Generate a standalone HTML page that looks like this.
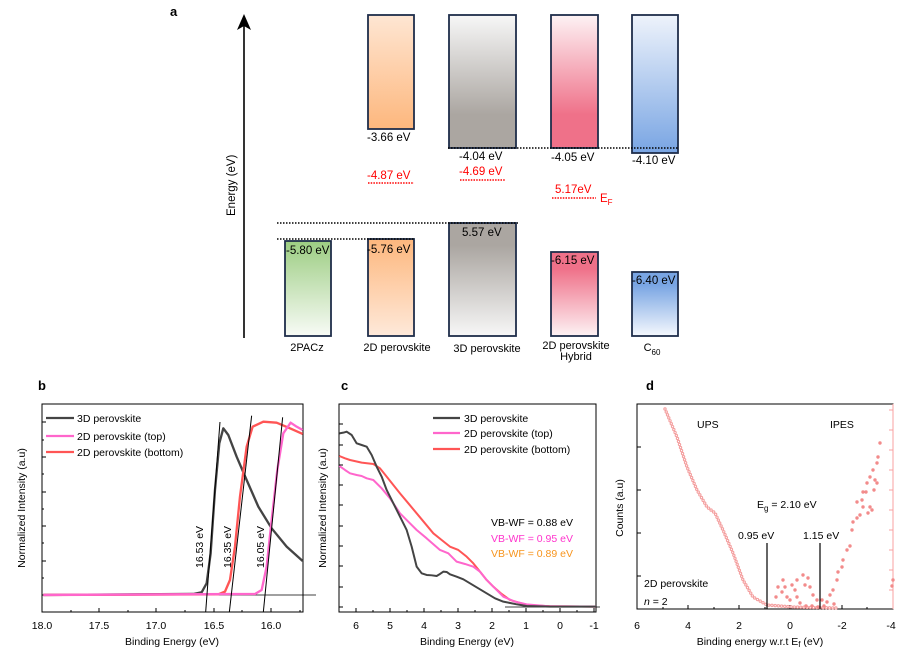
<!DOCTYPE html>
<html><head><meta charset="utf-8"><style>
html,body{margin:0;padding:0;background:#fff;}
svg{display:block;font-family:"Liberation Sans",Arial,sans-serif;}
</style></head><body>
<svg width="918" height="660" viewBox="0 0 918 660" xmlns="http://www.w3.org/2000/svg">
<defs>
<linearGradient id="or" x1="0" y1="0" x2="0" y2="1"><stop offset="0" stop-color="#fee6d3"/><stop offset="1" stop-color="#fdb77d"/></linearGradient>
<linearGradient id="orb" x1="0" y1="0" x2="0" y2="1"><stop offset="0" stop-color="#fdb77d"/><stop offset="1" stop-color="#fee9da"/></linearGradient>
<linearGradient id="gr" x1="0" y1="0" x2="0" y2="1"><stop offset="0" stop-color="#f7f7f7"/><stop offset="0.75" stop-color="#aba6a1"/><stop offset="1" stop-color="#aba6a1"/></linearGradient>
<linearGradient id="grb" x1="0" y1="0" x2="0" y2="1"><stop offset="0" stop-color="#aba6a1"/><stop offset="0.2" stop-color="#aba6a1"/><stop offset="1" stop-color="#f7f7f7"/></linearGradient>
<linearGradient id="pk" x1="0" y1="0" x2="0" y2="1"><stop offset="0" stop-color="#fdf2f4"/><stop offset="0.75" stop-color="#ef7189"/><stop offset="1" stop-color="#ef7189"/></linearGradient>
<linearGradient id="pkb" x1="0" y1="0" x2="0" y2="1"><stop offset="0" stop-color="#ef7189"/><stop offset="0.2" stop-color="#ef7189"/><stop offset="1" stop-color="#fdf2f4"/></linearGradient>
<linearGradient id="bl" x1="0" y1="0" x2="0" y2="1"><stop offset="0" stop-color="#eef3fb"/><stop offset="1" stop-color="#79a5e3"/></linearGradient>
<linearGradient id="blb" x1="0" y1="0" x2="0" y2="1"><stop offset="0" stop-color="#79a5e3"/><stop offset="0.2" stop-color="#79a5e3"/><stop offset="1" stop-color="#f5f8fd"/></linearGradient>
<linearGradient id="gn" x1="0" y1="0" x2="0" y2="1"><stop offset="0" stop-color="#9ccd82"/><stop offset="1" stop-color="#f8fbf6"/></linearGradient>
</defs>

<!-- Panel a -->
<text x="170" y="16" font-size="13" font-weight="bold">a</text>
<line x1="244" y1="338" x2="244" y2="24" stroke="#000" stroke-width="1.6"/>
<polygon points="244,14 237,30 244,26 251,30" fill="#000"/>
<text transform="translate(235,216) rotate(-90)" font-size="11.5">Energy (eV)</text>
<g stroke="#1f2d4a" stroke-width="1.8">
<rect x="368" y="15" width="46" height="114" fill="url(#or)"/>
<rect x="449" y="15" width="67" height="133" fill="url(#gr)"/>
<rect x="551" y="15" width="47" height="133" fill="url(#pk)"/>
<rect x="632" y="15" width="46" height="138" fill="url(#bl)"/>
<rect x="285" y="241" width="46" height="95" fill="url(#gn)"/>
<rect x="368" y="239" width="46" height="97" fill="url(#orb)"/>
<rect x="449" y="223" width="67" height="113" fill="url(#grb)"/>
<rect x="551" y="252" width="47" height="84" fill="url(#pkb)"/>
<rect x="632" y="272" width="46" height="64" fill="url(#blb)"/>
</g>
<g stroke="#000" stroke-width="1.4" stroke-dasharray="1.5,1.5">
<line x1="277" y1="223" x2="518" y2="223"/>
<line x1="277" y1="239" x2="415" y2="239"/>
<line x1="448" y1="148" x2="678" y2="148"/>
</g>
<g stroke="#f00" stroke-width="1.4" stroke-dasharray="1.5,1.2">
<line x1="368" y1="183" x2="414" y2="183"/>
<line x1="460" y1="180" x2="505" y2="180"/>
<line x1="552" y1="198" x2="596" y2="198"/>
</g>
<g font-size="11.5" fill="#000">
<text x="367" y="141">-3.66 eV</text>
<text x="459" y="160">-4.04 eV</text>
<text x="551" y="161">-4.05 eV</text>
<text x="632" y="164">-4.10 eV</text>
<text x="286" y="254">-5.80 eV</text>
<text x="367" y="253">-5.76 eV</text>
<text x="462" y="236">5.57 eV</text>
<text x="551" y="264">-6.15 eV</text>
<text x="632" y="284">-6.40 eV</text>
</g>
<g font-size="11.5" fill="#f00">
<text x="367" y="179">-4.87 eV</text>
<text x="459" y="175">-4.69 eV</text>
<text x="555" y="193">5.17eV</text>
<text x="600" y="202">E<tspan font-size="8" dy="3">F</tspan></text>
</g>
<g font-size="11" fill="#000" text-anchor="middle">
<text x="307" y="351">2PACz</text>
<text x="397" y="351">2D perovskite</text>
<text x="487" y="352">3D perovskite</text>
<text x="576" y="349">2D perovskite</text>
<text x="576" y="360">Hybrid</text>
<text x="652" y="351">C<tspan font-size="8" dy="4">60</tspan></text>
</g>

<!-- Panel b -->
<text x="38" y="390" font-size="13" font-weight="bold">b</text>
<rect x="42" y="404" width="261" height="208" fill="none" stroke="#000" stroke-width="1"/>
<g stroke="#000" stroke-width="1">
<line x1="42" y1="422" x2="46" y2="422"/><line x1="42" y1="457" x2="46" y2="457"/><line x1="42" y1="492" x2="46" y2="492"/><line x1="42" y1="526" x2="46" y2="526"/><line x1="42" y1="561" x2="46" y2="561"/><line x1="42" y1="595" x2="46" y2="595"/>
<line x1="42" y1="440" x2="44" y2="440"/><line x1="42" y1="474" x2="44" y2="474"/><line x1="42" y1="509" x2="44" y2="509"/><line x1="42" y1="543" x2="44" y2="543"/><line x1="42" y1="578" x2="44" y2="578"/>
<line x1="42" y1="612" x2="42" y2="608"/><line x1="99" y1="612" x2="99" y2="608"/><line x1="156" y1="612" x2="156" y2="608"/><line x1="214" y1="612" x2="214" y2="608"/><line x1="271" y1="612" x2="271" y2="608"/>
<line x1="71" y1="612" x2="71" y2="610"/><line x1="128" y1="612" x2="128" y2="610"/><line x1="185" y1="612" x2="185" y2="610"/><line x1="242" y1="612" x2="242" y2="610"/><line x1="300" y1="612" x2="300" y2="610"/>
</g>
<g font-size="10.5" text-anchor="middle">
<text x="42" y="629">18.0</text><text x="99" y="629">17.5</text><text x="156" y="629">17.0</text><text x="214" y="629">16.5</text><text x="271" y="629">16.0</text>
<text x="172" y="645">Binding Energy (eV)</text>
</g>
<text transform="translate(25,508) rotate(-90)" font-size="10.5" text-anchor="middle">Normalized Intensity (a.u)</text>
<line x1="42" y1="595" x2="316" y2="595" stroke="#000" stroke-width="0.8"/>
<g transform="translate(0,380) scale(0.3333)" fill="none" stroke-linejoin="round">
<polyline stroke="#444" stroke-width="7" points="130,645 580,642 605,637 620,610 632,520 645,330 658,190 670,145 685,165 710,230 740,300 775,380 815,445 860,500 908,543"/>
<polyline stroke="#f55" stroke-width="7" points="130,645 655,643 675,635 690,600 705,500 720,350 740,200 758,140 790,125 830,128 870,145 908,162"/>
<polyline stroke="#f6c" stroke-width="7" points="130,645 765,642 785,630 800,560 815,420 832,270 850,160 872,128 890,140 908,150"/>
<g stroke="#000" stroke-width="3">
<line x1="617" y1="697" x2="660" y2="126"/>
<line x1="688" y1="697" x2="755" y2="107"/>
<line x1="790" y1="697" x2="848" y2="112"/>
</g>
</g>
<g font-size="10.5">
<text transform="translate(203,568) rotate(-90)">16.53 eV</text>
<text transform="translate(231,568) rotate(-90)">16.35 eV</text>
<text transform="translate(264,568) rotate(-90)">16.05 eV</text>
</g>
<g stroke-width="2.3">
<line x1="46" y1="418" x2="74" y2="418" stroke="#444"/>
<line x1="46" y1="436" x2="74" y2="436" stroke="#f6c"/>
<line x1="46" y1="452" x2="74" y2="452" stroke="#f55"/>
</g>
<g font-size="10.5">
<text x="77" y="422">3D perovskite</text>
<text x="77" y="440">2D perovskite (top)</text>
<text x="77" y="456">2D perovskite (bottom)</text>
</g>

<!-- Panel c -->
<text x="341" y="390" font-size="13" font-weight="bold">c</text>
<rect x="339" y="404" width="257" height="208" fill="none" stroke="#000" stroke-width="1"/>
<g stroke="#000" stroke-width="1">
<line x1="339" y1="424" x2="343" y2="424"/><line x1="339" y1="445" x2="343" y2="445"/><line x1="339" y1="465" x2="343" y2="465"/><line x1="339" y1="485" x2="343" y2="485"/><line x1="339" y1="505" x2="343" y2="505"/><line x1="339" y1="526" x2="343" y2="526"/><line x1="339" y1="546" x2="343" y2="546"/><line x1="339" y1="566" x2="343" y2="566"/><line x1="339" y1="587" x2="343" y2="587"/><line x1="339" y1="607" x2="343" y2="607"/>
<line x1="356" y1="612" x2="356" y2="608"/><line x1="390" y1="612" x2="390" y2="608"/><line x1="424" y1="612" x2="424" y2="608"/><line x1="458" y1="612" x2="458" y2="608"/><line x1="492" y1="612" x2="492" y2="608"/><line x1="526" y1="612" x2="526" y2="608"/><line x1="560" y1="612" x2="560" y2="608"/><line x1="594" y1="612" x2="594" y2="608"/>
<line x1="373" y1="612" x2="373" y2="610"/><line x1="407" y1="612" x2="407" y2="610"/><line x1="441" y1="612" x2="441" y2="610"/><line x1="475" y1="612" x2="475" y2="610"/><line x1="509" y1="612" x2="509" y2="610"/><line x1="543" y1="612" x2="543" y2="610"/><line x1="577" y1="612" x2="577" y2="610"/>
</g>
<g font-size="10.5" text-anchor="middle">
<text x="356" y="629">6</text><text x="390" y="629">5</text><text x="424" y="629">4</text><text x="458" y="629">3</text><text x="492" y="629">2</text><text x="526" y="629">1</text><text x="560" y="629">0</text><text x="594" y="629">-1</text>
<text x="467" y="645">Binding Energy (eV)</text>
</g>
<text transform="translate(326,508) rotate(-90)" font-size="10.5" text-anchor="middle">Normalized Intensity (a.u)</text>
<line x1="505" y1="607" x2="600" y2="607" stroke="#000" stroke-width="0.8"/>
<g transform="translate(300,380) scale(0.3333)" fill="none" stroke-linejoin="round">
<polyline stroke="#f55" stroke-width="6" points="118,228 135,235 150,240 185,248 220,252 240,265 260,290 280,315 300,340 325,370 350,400 375,430 400,460 425,480 450,500 475,510 500,530 520,550 540,575 560,600 580,620 605,642 630,660 680,675 750,679 888,680"/>
<polyline stroke="#f6c" stroke-width="6" points="118,258 135,270 150,280 170,285 185,288 200,295 220,300 245,325 270,355 290,385 300,400 325,425 350,450 380,475 420,510 445,520 470,545 495,552 520,560 540,575 560,600 585,625 610,650 645,665 680,673 750,679 888,680"/>
<polyline stroke="#444" stroke-width="6" points="118,160 130,158 140,155 155,165 170,190 185,195 200,200 215,225 230,260 245,290 260,330 275,360 290,390 305,420 320,450 335,500 350,560 365,580 380,585 395,586 410,588 420,582 430,575 440,576 450,583 470,590 490,598 510,610 535,625 560,640 585,655 610,665 650,673 680,678 750,680 888,680"/>
</g>
<g stroke-width="2.3">
<line x1="433" y1="418" x2="460" y2="418" stroke="#444"/>
<line x1="433" y1="433" x2="460" y2="433" stroke="#f6c"/>
<line x1="433" y1="449" x2="460" y2="449" stroke="#f55"/>
</g>
<g font-size="10.5">
<text x="464" y="422">3D perovskite</text>
<text x="464" y="437">2D perovskite (top)</text>
<text x="464" y="453">2D perovskite (bottom)</text>
<text x="491" y="526" fill="#000">VB-WF = 0.88 eV</text>
<text x="491" y="542" fill="#f3c">VB-WF = 0.95 eV</text>
<text x="491" y="557" fill="#f7941d">VB-WF = 0.89 eV</text>
</g>

<!-- Panel d -->
<text x="646" y="390" font-size="13" font-weight="bold">d</text>
<rect x="637" y="404" width="256" height="205" fill="none" stroke="#000" stroke-width="1"/>
<line x1="893" y1="404" x2="893" y2="609" stroke="#f8a0a0" stroke-width="1"/>
<g stroke="#000" stroke-width="1">
<line x1="637" y1="447" x2="641" y2="447"/><line x1="637" y1="490" x2="641" y2="490"/><line x1="637" y1="533" x2="641" y2="533"/><line x1="637" y1="576" x2="641" y2="576"/>
<line x1="637" y1="609" x2="637" y2="605"/><line x1="688" y1="609" x2="688" y2="605"/><line x1="739" y1="609" x2="739" y2="605"/><line x1="790" y1="609" x2="790" y2="605"/><line x1="842" y1="609" x2="842" y2="605"/>
<line x1="663" y1="609" x2="663" y2="607"/><line x1="714" y1="609" x2="714" y2="607"/><line x1="765" y1="609" x2="765" y2="607"/><line x1="816" y1="609" x2="816" y2="607"/><line x1="867" y1="609" x2="867" y2="607"/>
</g>
<g stroke="#f8a0a0" stroke-width="1">
<line x1="893" y1="410" x2="889" y2="410"/><line x1="893" y1="430" x2="889" y2="430"/><line x1="893" y1="450" x2="889" y2="450"/><line x1="893" y1="470" x2="889" y2="470"/><line x1="893" y1="490" x2="889" y2="490"/><line x1="893" y1="510" x2="889" y2="510"/><line x1="893" y1="530" x2="889" y2="530"/><line x1="893" y1="550" x2="889" y2="550"/><line x1="893" y1="570" x2="889" y2="570"/><line x1="893" y1="590" x2="889" y2="590"/>
</g>
<g font-size="10.5" text-anchor="middle">
<text x="637" y="629">6</text><text x="688" y="629">4</text><text x="739" y="629">2</text><text x="790" y="629">0</text><text x="842" y="629">-2</text><text x="891" y="629">-4</text>
<text x="760" y="645">Binding energy w.r.t E<tspan font-size="8" dy="2">f</tspan><tspan dy="-2">  (eV)</tspan></text>
</g>
<text transform="translate(623,508) rotate(-90)" font-size="10.5" text-anchor="middle">Counts (a.u)</text>
<!-- UPS open circles -->
<path d="M665,409 L677,437 L687,467 L697,490 L707,507 L715,513 L723,530 L733,553 L743,580 L753,597 L767,605 L793,607 L837,608" fill="none" stroke="#f4a0a0" stroke-width="3.4" stroke-linecap="round" stroke-dasharray="0 3.2"/>
<path d="M665,409 L677,437 L687,467 L697,490 L707,507 L715,513 L723,530 L733,553 L743,580 L753,597 L767,605 L793,607 L837,608" fill="none" stroke="#fff" stroke-width="1.2" stroke-linecap="round" stroke-dasharray="0 3.2"/>
<!-- IPES dots -->
<g fill="#f28b8b">
<circle cx="783" cy="580" r="1.7"/><circle cx="778" cy="587" r="1.7"/><circle cx="782" cy="592" r="1.7"/><circle cx="787" cy="597" r="1.7"/><circle cx="792" cy="585" r="1.7"/><circle cx="797" cy="580" r="1.7"/><circle cx="803" cy="575" r="1.7"/><circle cx="805" cy="585" r="1.7"/><circle cx="810" cy="587" r="1.7"/><circle cx="813" cy="595" r="1.7"/><circle cx="817" cy="600" r="1.7"/><circle cx="797" cy="597" r="1.7"/><circle cx="800" cy="603" r="1.7"/><circle cx="790" cy="600" r="1.7"/><circle cx="785" cy="587" r="1.7"/><circle cx="808" cy="578" r="1.7"/><circle cx="795" cy="590" r="1.7"/><circle cx="776" cy="597" r="1.7"/>
<circle cx="806" cy="606" r="1.7"/><circle cx="812" cy="606" r="1.7"/><circle cx="818" cy="607" r="1.7"/><circle cx="824" cy="606" r="1.7"/><circle cx="822" cy="600" r="1.7"/><circle cx="827" cy="602" r="1.7"/><circle cx="830" cy="595" r="1.7"/><circle cx="833" cy="590" r="1.7"/><circle cx="834" cy="604" r="1.7"/><circle cx="837" cy="580" r="1.7"/><circle cx="838" cy="572" r="1.7"/><circle cx="842" cy="567" r="1.7"/><circle cx="843" cy="560" r="1.7"/><circle cx="847" cy="550" r="1.7"/><circle cx="850" cy="546" r="1.7"/><circle cx="852" cy="530" r="1.7"/><circle cx="853" cy="522" r="1.7"/><circle cx="857" cy="518" r="1.7"/><circle cx="860" cy="515" r="1.7"/><circle cx="857" cy="502" r="1.7"/><circle cx="862" cy="500" r="1.7"/><circle cx="863" cy="492" r="1.7"/><circle cx="867" cy="483" r="1.7"/><circle cx="870" cy="477" r="1.7"/><circle cx="873" cy="470" r="1.7"/><circle cx="877" cy="463" r="1.7"/><circle cx="878" cy="457" r="1.7"/><circle cx="877" cy="483" r="1.7"/><circle cx="870" cy="507" r="1.7"/><circle cx="868" cy="513" r="1.7"/><circle cx="863" cy="507" r="1.7"/><circle cx="872" cy="510" r="1.7"/><circle cx="875" cy="480" r="1.7"/><circle cx="880" cy="443" r="1.7"/><circle cx="866" cy="492" r="1.7"/><circle cx="874" cy="490" r="1.7"/>
<circle cx="892" cy="586" r="1.7"/><circle cx="893" cy="580" r="1.7"/>
</g>
<g stroke="#000" stroke-width="1.2">
<line x1="767" y1="543" x2="767" y2="609"/>
<line x1="820" y1="543" x2="820" y2="609"/>
</g>
<g font-size="10.5">
<text x="697" y="428">UPS</text>
<text x="830" y="428">IPES</text>
<text x="757" y="508">E<tspan font-size="8" dy="3">g</tspan><tspan dy="-3"> = 2.10 eV</tspan></text>
<text x="738" y="539">0.95 eV</text>
<text x="803" y="539">1.15 eV</text>
<text x="644" y="587">2D perovskite</text>
<text x="644" y="605"><tspan font-style="italic">n</tspan> = 2</text>
</g>
</svg>
</body></html>
